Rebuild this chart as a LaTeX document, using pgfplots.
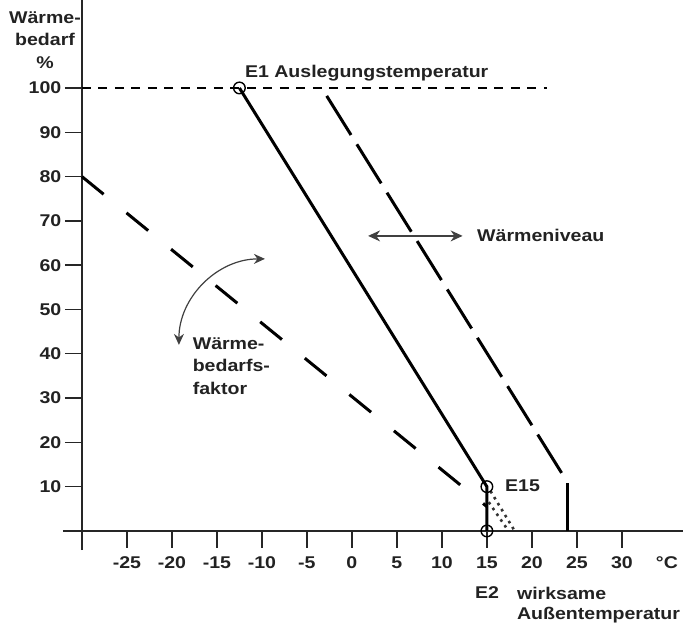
\documentclass[border=0pt]{standalone}
\usepackage{fontspec}
\setmainfont[FakeStretch=1.15]{Liberation Sans}
\usepackage{pgfplots}
\usepackage{pgfplotstable}
\pgfplotsset{compat=1.18}
\usetikzlibrary{arrows.meta}
\definecolor{txt}{HTML}{222222}
\newcommand{\lab}{\bfseries\fontsize{17}{22.5}\selectfont}

\pgfplotstableread{
t y
-12.5 100
15 10
15 0
}\solidline
\pgfplotstableread{
t y
-2.8 98.2
23.3 13.1
}\upperline
\pgfplotstableread{
t y
-30 80
15 5.5
}\lowerline
\pgfplotstableread{
t y
23.9 0
23.9 10.8
}\vbar
\pgfplotstableread{
t y
-30 100
21.7 100
}\hundred
\pgfplotstableread{
t y
15.4 9
18.0 0.3
}\dotA
\pgfplotstableread{
t y
15.2 6.5
17.3 0.3
}\dotB
\pgfplotstableread{
t y
-12.5 100
15 10
15 0
}\points

\begin{document}
\begin{tikzpicture}
\useasboundingbox (-63pt,-74pt) rectangle (621pt,550pt);
\begin{axis}[
  scale only axis, width=620.1pt, height=550.2pt,
  at={(0,0)}, anchor=south west,
  xmin=-2.1, xmax=66.8, ymin=-4.3, ymax=119.9,
  axis lines=middle,
  axis line style={-, line width=1.4pt, black!85},
  xtick={5,10,...,60},
  xticklabels={-25,-20,-15,-10,-5,0,5,10,15,20,25,30},
  ytick={10,20,...,100},
  yticklabels={10,20,30,40,50,60,70,80,90,100},
  tick align=outside, major tick length=17pt,
  tick style={line width=1.4pt, black!85},
  ticklabel style={font=\lab, text=txt},
  xticklabel style={yshift=-5pt},
  clip=false,
]
\addplot[black, line width=1.4pt, dash pattern=on 9pt off 7.5pt] table[x expr=\thisrow{t}+30, y=y] {\hundred};
\addplot[black, line width=3pt, dash pattern=on 28pt off 29.5pt] table[x expr=\thisrow{t}+30, y=y] {\lowerline};
\addplot[black, line width=3pt, dash pattern=on 46pt off 11pt] table[x expr=\thisrow{t}+30, y=y] {\upperline};
\addplot[black, line width=3pt] table[x expr=\thisrow{t}+30, y=y] {\vbar};
\addplot[black, line width=3pt] table[x expr=\thisrow{t}+30, y=y] {\solidline};
\addplot[black!80, line width=2.6pt, dash pattern=on 2.6pt off 4.4pt] table[x expr=\thisrow{t}+30, y=y] {\dotA};
\addplot[black!80, line width=2.6pt, dash pattern=on 2.6pt off 4.4pt] table[x expr=\thisrow{t}+30, y=y] {\dotB};
\addplot[only marks, mark=o, mark size=5.8pt, mark options={line width=1.4pt, black, fill=none}] table[x expr=\thisrow{t}+30, y=y] {\points};

% annotations
\node[anchor=west, inner sep=0, font=\lab, text=txt] at (axis cs:18.1,103.4) {E1 Auslegungstemperatur};
\node[anchor=west, inner sep=0, font=\lab, text=txt] at (axis cs:43.9,66.6) {Wärmeniveau};
\node[anchor=west, inner sep=0, font=\lab, text=txt, align=left] at (axis cs:12.3,37.2) {Wärme-\\bedarfs-\\faktor};
\node[anchor=west, inner sep=0, font=\lab, text=txt] at (axis cs:47,10.2) {E15};
\node[inner sep=0, font=\lab, text=txt] at (axis cs:65,-7.2) {°C};
\node[anchor=west, inner sep=0, font=\lab, text=txt] at (axis cs:43.67,-14) {E2};
\node[anchor=west, inner sep=0, font=\lab, text=txt] at (axis cs:48.33,-14) {wirksame};
\node[anchor=west, inner sep=0, font=\lab, text=txt] at (axis cs:48.33,-19) {Außentemperatur};
\node[inner sep=0, font=\lab, text=txt, align=center] at (axis cs:-4.1,110.8) {Wärme-\\bedarf\\\%};
\draw[black!75, line width=1.4pt, {Stealth[length=12pt,width=11pt]}-{Stealth[length=12pt,width=11pt]}] (axis cs:31.8,66.6) -- (axis cs:42.3,66.6);
\draw[black!75, line width=1.2pt, {Stealth[length=11pt,width=10pt]}-{Stealth[length=11pt,width=10pt]}] (axis cs:10.78,42) arc[start angle=180, end angle=90, radius=86pt];
\end{axis}
\end{tikzpicture}
\end{document}
